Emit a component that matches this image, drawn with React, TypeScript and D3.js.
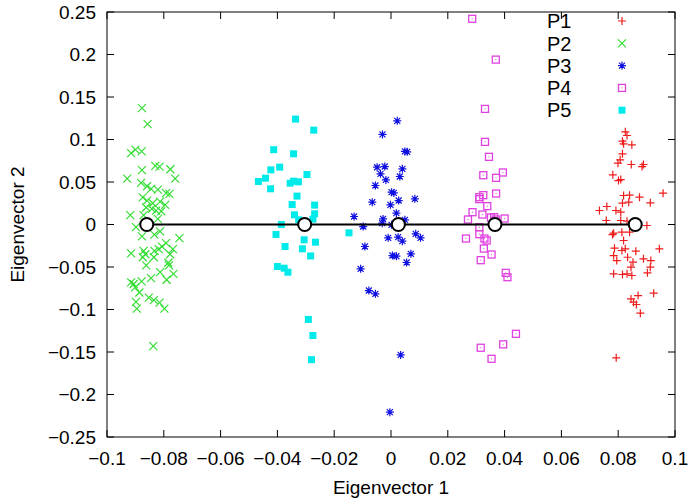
import React from "react";
import * as d3 from "d3";

// cluster points: [eigenvector 1, eigenvector 2]
const p1: [number, number][] = [
  [0.0825, 0.109], [0.0831, 0.1047], [0.0815, 0.098], [0.0819, 0.0949], [0.0848, 0.0937],
  [0.0815, 0.0831], [0.0807, 0.0761], [0.0799, 0.0721], [0.0846, 0.0706], [0.0884, 0.0682],
  [0.0889, 0.0706], [0.0781, 0.0584], [0.0801, 0.0517], [0.0809, 0.0529], [0.0958, 0.0368],
  [0.0819, 0.0341], [0.084, 0.0345], [0.0875, 0.0321], [0.0815, 0.0251], [0.0837, 0.0263],
  [0.0913, 0.0255], [0.076, 0.0212], [0.0734, 0.0165], [0.0792, 0.0165], [0.0809, 0.0145],
  [0.0758, 0.0047], [0.0809, 0.0047], [0.0831, 0.0039], [0.0901, -0.0012], [0.078, -0.0118],
  [0.0784, -0.0102], [0.0813, -0.009], [0.084, -0.009], [0.0819, -0.0188], [0.0787, -0.0279],
  [0.0813, -0.0306], [0.0825, -0.0286], [0.0862, -0.0314], [0.0945, -0.0286], [0.0784, -0.0365],
  [0.0795, -0.0424], [0.0833, -0.0385], [0.0852, -0.0443], [0.0889, -0.0404], [0.0915, -0.0424],
  [0.0913, -0.0502], [0.0845, -0.0502], [0.0784, -0.058], [0.0815, -0.0588], [0.0831, -0.058],
  [0.0848, -0.06], [0.0903, -0.0569], [0.0925, -0.0808], [0.0845, -0.0875], [0.087, -0.0836],
  [0.0854, -0.0914], [0.0864, -0.0941], [0.0878, -0.1043], [0.0793, -0.1569],
];

const p2: [number, number][] = [
  [-0.0877, 0.137], [-0.0857, 0.118], [-0.0915, 0.084], [-0.09, 0.088], [-0.0878, 0.086],
  [-0.0877, 0.064], [-0.083, 0.069], [-0.0815, 0.068], [-0.0777, 0.065], [-0.0929, 0.054],
  [-0.076, 0.054], [-0.088, 0.049], [-0.0859, 0.045], [-0.0845, 0.042], [-0.0821, 0.041],
  [-0.0792, 0.037], [-0.078, 0.036], [-0.0874, 0.032], [-0.0859, 0.028], [-0.0839, 0.025],
  [-0.0813, 0.027], [-0.0795, 0.023], [-0.0862, 0.02], [-0.0842, 0.0184], [-0.0827, 0.0164],
  [-0.0809, 0.0156], [-0.0918, 0.011], [-0.0871, 0.011], [-0.0821, 0.0066], [-0.0898, -0.003],
  [-0.0877, -0.014], [-0.0833, -0.012], [-0.0813, -0.008], [-0.0745, -0.016], [-0.0792, -0.022],
  [-0.0806, -0.026], [-0.0818, -0.029], [-0.0833, -0.031], [-0.0915, -0.034], [-0.0871, -0.031],
  [-0.0865, -0.035], [-0.0768, -0.029], [-0.0778, -0.035], [-0.0874, -0.0385], [-0.0835, -0.0385],
  [-0.0862, -0.048], [-0.0784, -0.045], [-0.0782, -0.048], [-0.0845, -0.063], [-0.0813, -0.056],
  [-0.0766, -0.058], [-0.079, -0.065], [-0.0915, -0.068], [-0.0906, -0.07], [-0.0878, -0.067],
  [-0.0901, -0.074], [-0.0886, -0.08], [-0.0853, -0.086], [-0.0835, -0.089], [-0.0815, -0.092],
  [-0.0798, -0.099], [-0.0898, -0.091], [-0.0895, -0.099], [-0.0837, -0.143],
];

const p3: [number, number][] = [
  [0.0022, 0.122], [-0.003, 0.106], [0.0049, 0.086], [0.0057, 0.0855], [-0.0049, 0.0674],
  [-0.0022, 0.0682], [-0.0037, 0.0596], [-0.0018, 0.0525], [0.0031, 0.0565], [0.004, 0.0655],
  [-0.0055, 0.0459], [0.0002, 0.038], [0.001, 0.0372], [0.0027, 0.0282], [-0.0002, 0.0231],
  [0.0084, 0.0302], [-0.0066, 0.0263], [0.0019, 0.0133], [-0.013, 0.0094], [-0.0028, 0.0066],
  [-0.0031, 0.0016], [0.0002, -0.0004], [0.0049, 0.0055], [-0.0098, -0.0024], [0.0087, -0.011],
  [0.0104, -0.0157], [-0.001, -0.0157], [0.0025, -0.0149], [0.004, -0.0196], [-0.0092, -0.0259],
  [0.007, -0.0345], [0.0005, -0.0365], [0.0019, -0.0373], [0.0055, -0.0447], [-0.0107, -0.0522],
  [-0.0078, -0.0777], [-0.0055, -0.0816], [0.0034, -0.1534], [-0.0004, -0.2208],
];

const p4: [number, number][] = [
  [0.0286, 0.242], [0.0369, 0.194], [0.0331, 0.136], [0.0331, 0.0972], [0.0345, 0.0796],
  [0.0325, 0.058], [0.0394, 0.0612], [0.037, 0.0549], [0.037, 0.0365], [0.0325, 0.0345],
  [0.0311, 0.0321], [0.0311, 0.0298], [0.0339, 0.0216], [0.0287, 0.0145], [0.0322, 0.0117],
  [0.0271, 0.0059], [0.0352, 0.0082], [0.0363, 0.0086], [0.0369, 0.0059], [0.04, 0.007],
  [0.0311, -0.0032], [0.0311, -0.0114], [0.0264, -0.0165], [0.0329, -0.0165], [0.0337, -0.0188],
  [0.0327, -0.0283], [0.0354, -0.0353], [0.0316, -0.042], [0.0404, -0.0569], [0.041, -0.062],
  [0.044, -0.1286], [0.0316, -0.145], [0.0354, -0.158], [0.0395, -0.141],
];

const p5: [number, number][] = [
  [-0.0336, 0.124], [-0.0272, 0.111], [-0.0413, 0.088], [-0.0343, 0.0832], [-0.0392, 0.0675],
  [-0.0423, 0.0643], [-0.0296, 0.0588], [-0.0442, 0.0545], [-0.0467, 0.0506], [-0.0424, 0.042],
  [-0.0355, 0.0486], [-0.0343, 0.051], [-0.0326, 0.0502], [-0.0331, 0.0334], [-0.0348, 0.0235],
  [-0.0269, 0.0228], [-0.034, 0.0114], [-0.0325, 0.0055], [-0.0269, 0.0126], [-0.0275, 0.0063],
  [-0.0386, 0.0], [-0.0405, -0.0117], [-0.0306, -0.018], [-0.0266, -0.0208], [-0.0373, -0.0259],
  [-0.0312, -0.0286], [-0.0283, -0.037], [-0.04, -0.0494], [-0.0376, -0.0514], [-0.0363, -0.0561],
  [-0.0291, -0.1117], [-0.0275, -0.1306], [-0.028, -0.159], [-0.0148, -0.0098],
];

// cluster centres (open circles joined by a line)
const centres: [number, number][] = [
  [-0.086, 0], [-0.0304, 0], [0.0026, 0], [0.0366, 0], [0.086, 0],
];

const seriesNames = ["P1", "P2", "P3", "P4", "P5"];
const seriesData = [p1, p2, p3, p4, p5];
const seriesColors = ["#ee1c1c", "#33dd33", "#1010e0", "#e040e0", "#00eaea"];
const seriesShapes = ["plus", "cross", "star", "square", "filled"];

const xTicks = [-0.1, -0.08, -0.06, -0.04, -0.02, 0, 0.02, 0.04, 0.06, 0.08, 0.1];
const yTicks = [-0.25, -0.2, -0.15, -0.1, -0.05, 0, 0.05, 0.1, 0.15, 0.2, 0.25];

const width = 692;
const height = 502;
const margin = { top: 12, right: 17, bottom: 65, left: 107 };

const x = d3.scaleLinear().domain([-0.1, 0.1]).range([margin.left, width - margin.right]);
const y = d3.scaleLinear().domain([-0.25, 0.25]).range([height - margin.bottom, margin.top]);

const font = "'Liberation Sans', Arial, sans-serif";

function Marker({ shape, cx, cy, color }: { shape: string; cx: number; cy: number; color: string }) {
  const r = 4;
  if (shape === "plus") {
    return <path d={`M${cx - r},${cy}H${cx + r}M${cx},${cy - r}V${cy + r}`} stroke={color} strokeWidth={1.2} fill="none" />;
  }
  if (shape === "cross") {
    return <path d={`M${cx - r},${cy - r}L${cx + r},${cy + r}M${cx - r},${cy + r}L${cx + r},${cy - r}`} stroke={color} strokeWidth={1.2} fill="none" />;
  }
  if (shape === "star") {
    return (
      <path
        d={`M${cx - r},${cy}H${cx + r}M${cx},${cy - r}V${cy + r}M${cx - 3},${cy - 3}L${cx + 3},${cy + 3}M${cx - 3},${cy + 3}L${cx + 3},${cy - 3}`}
        stroke={color} strokeWidth={1.2} fill="none"
      />
    );
  }
  if (shape === "square") {
    return (
      <g>
        <rect x={cx - 3.5} y={cy - 3.5} width={7} height={7} stroke={color} strokeWidth={1.3} fill="none" />
        <rect x={cx - 0.5} y={cy - 0.5} width={1} height={1} fill={color} />
      </g>
    );
  }
  return <rect x={cx - 3.5} y={cy - 3.5} width={7} height={7} fill={color} />;
}

export default function App() {
  const line = d3.line<[number, number]>().x((d) => x(d[0])).y((d) => y(d[1]));
  const x0 = margin.left;
  const x1 = width - margin.right;
  const y0 = margin.top;
  const y1 = height - margin.bottom;
  const tick = 7;

  return (
    <svg width={width} height={height} style={{ position: "absolute", left: 0, top: 0, background: "#fff" }} fontFamily={font}>
      {/* points */}
      {seriesData.map((pts, i) => (
        <g key={seriesNames[i]}>
          {pts.map((d, j) => (
            <Marker key={j} shape={seriesShapes[i]} cx={x(d[0])} cy={y(d[1])} color={seriesColors[i]} />
          ))}
        </g>
      ))}

      {/* centre line and circles */}
      <path d={line(centres) ?? ""} stroke="#000" strokeWidth={2} fill="none" />
      {centres.map((d, i) => (
        <circle key={i} cx={x(d[0])} cy={y(d[1])} r={6.5} fill="#fff" stroke="#000" strokeWidth={2} />
      ))}

      {/* frame */}
      <rect x={x0} y={y0} width={x1 - x0} height={y1 - y0} fill="none" stroke="#000" strokeWidth={1} />
      {xTicks.map((t) => (
        <g key={`x${t}`}>
          <line x1={x(t)} x2={x(t)} y1={y1} y2={y1 - tick} stroke="#000" />
          <line x1={x(t)} x2={x(t)} y1={y0} y2={y0 + tick} stroke="#000" />
          <text x={x(t)} y={y1 + 28} textAnchor="middle" fontSize={19}>
            {d3.format("~g")(t)}
          </text>
        </g>
      ))}
      {yTicks.map((t) => (
        <g key={`y${t}`}>
          <line x1={x0} x2={x0 + tick} y1={y(t)} y2={y(t)} stroke="#000" />
          <line x1={x1} x2={x1 - tick} y1={y(t)} y2={y(t)} stroke="#000" />
          <text x={x0 - 11} y={y(t)} dy="0.35em" textAnchor="end" fontSize={19}>
            {d3.format("~g")(t)}
          </text>
        </g>
      ))}

      {/* legend */}
      {seriesNames.map((name, i) => (
        <g key={name} transform={`translate(0,${21 + i * 22.3})`}>
          <text x={547} y={0} dy="0.36em" fontSize={20}>{name}</text>
          <Marker shape={seriesShapes[i]} cx={622} cy={0} color={seriesColors[i]} />
        </g>
      ))}

      {/* axis titles */}
      <text x={(x0 + x1) / 2} y={494} textAnchor="middle" fontSize={19}>Eigenvector 1</text>
      <text transform={`translate(24,${(y0 + y1) / 2}) rotate(-90)`} textAnchor="middle" fontSize={19}>
        Eigenvector 2
      </text>
    </svg>
  );
}
